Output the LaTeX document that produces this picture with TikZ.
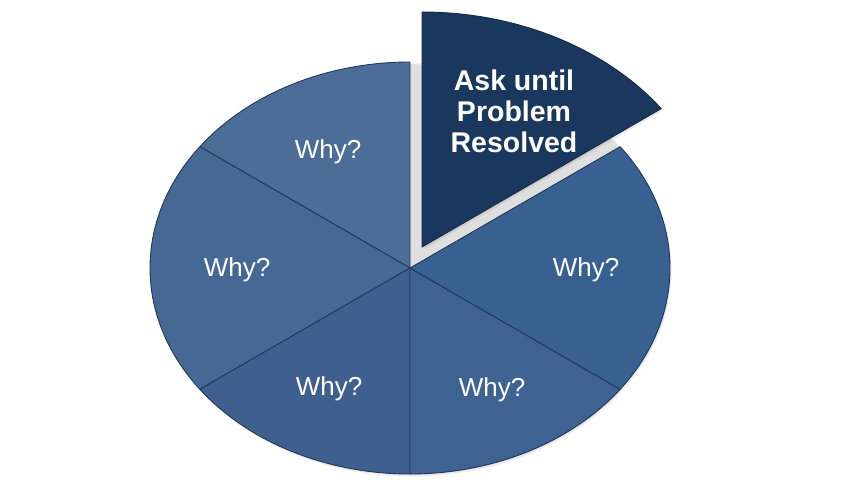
\documentclass[tikz,border=0pt]{standalone}
\usepackage{fontspec}
\setmainfont{Liberation Sans}
\definecolor{cTL}{HTML}{4C6D98}
\definecolor{cL}{HTML}{466894}
\definecolor{cBL}{HTML}{3F608F}
\definecolor{cBR}{HTML}{3E6291}
\definecolor{cR}{HTML}{386091}
\definecolor{cX}{HTML}{1A375E}
\definecolor{edgec}{HTML}{22395A}
\begin{document}
\begin{tikzpicture}[x=1pt,y=1pt,
  slice/.style={draw=edgec, line width=0.9pt, line join=round},
  shade layer/.style={fill=black, opacity=0.045},
  why/.style={text=white, font=\fontsize{26}{30}\selectfont, anchor=base, inner sep=0pt},
  bigtext/.style={text=white, font=\fontsize{28.5}{31}\selectfont\bfseries, align=center, anchor=base, inner sep=0pt}]
\useasboundingbox (0,0) rectangle (846,494);
\coordinate (C) at (410,226);
\coordinate (A) at (422,247);
% soft shadows
\foreach \s in {1,2,3}{
  \fill[shade layer] ([shift={(\s*0.6,-\s*0.9)}]C) ellipse[x radius=260, y radius=206];
  \fill[shade layer] ([shift={(\s*0.6,-\s*0.9)}]A) -- ++(36.08:296 and 235) arc[start angle=36.08, end angle=90, x radius=296, y radius=235] -- cycle;
}
% slices
\path[slice, fill=cTL] (C) -- ++(90:260 and 206) arc[start angle=90, end angle=143.92, x radius=260, y radius=206] -- cycle;
\path[slice, fill=cL] (C) -- ++(143.92:260 and 206) arc[start angle=143.92, end angle=216.08, x radius=260, y radius=206] -- cycle;
\path[slice, fill=cBL] (C) -- ++(216.08:260 and 206) arc[start angle=216.08, end angle=270, x radius=260, y radius=206] -- cycle;
\path[slice, fill=cBR] (C) -- ++(270:260 and 206) arc[start angle=270, end angle=323.92, x radius=260, y radius=206] -- cycle;
\path[slice, fill=cR] (C) -- ++(-36.08:260 and 206) arc[start angle=-36.08, end angle=36.08, x radius=260, y radius=206] -- cycle;
\path[slice, fill=cX, draw=cX!80!black] (A) -- ++(36.08:296 and 235) arc[start angle=36.08, end angle=90, x radius=296, y radius=235] -- cycle;
% labels
\node[why] (wTL) at (328,335) {Why?};
\node[why] (wL) at (237,217) {Why?};
\node[why] (wBL) at (329,98) {Why?};
\node[why] (wBR) at (492,97) {Why?};
\node[why] (wR) at (586,217) {Why?};
\node[bigtext] (ask) at (514,341) {Ask until\\Problem\\Resolved};
\end{tikzpicture}
\end{document}
